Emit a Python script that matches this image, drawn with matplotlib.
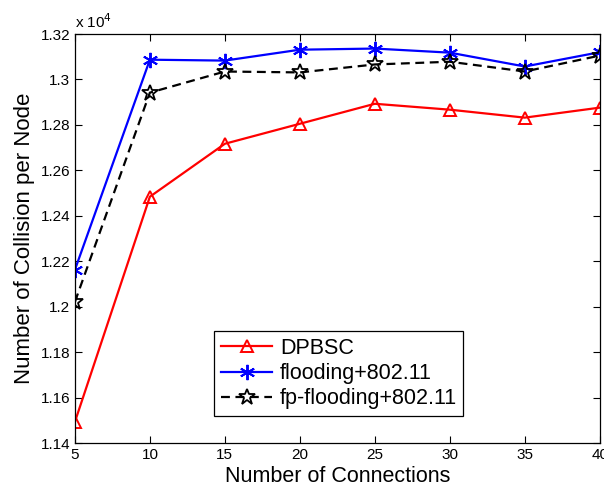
import matplotlib.pyplot as plt
from matplotlib.ticker import FixedLocator, FuncFormatter

plt.rcParams['font.family'] = ['Liberation Sans', 'DejaVu Sans']

connections = [5, 10, 15, 20, 25, 30, 35, 40]
dpbsc = [11493, 12484, 12717, 12805, 12893, 12867, 12832, 12876]
flooding = [12162, 13087, 13083, 13131, 13136, 13118, 13057, 13120]
fp_flooding = [12021, 12942, 13035, 13031, 13066, 13078, 13035, 13105]

scale = 1e4

fig = plt.figure(figsize=(6.04, 4.93), dpi=100)
ax = fig.add_axes([0.124, 0.1014, 0.869, 0.8296])

ax.plot(connections, [v / scale for v in dpbsc], color='red', lw=1.6,
        marker='^', ms=9, mfc='none', mew=1.4, label='DPBSC')
ax.plot(connections, [v / scale for v in flooding], color='blue', lw=1.6,
        marker=(6, 2, 0), ms=11, mew=1.4, label='flooding+802.11')
ax.plot(connections, [v / scale for v in fp_flooding], color='black', lw=1.6,
        ls='--', dashes=(4, 2.5), marker='*', ms=12, mfc='none', mew=1.3,
        label='fp-flooding+802.11')

ax.set_xlim(5, 40)
ax.set_ylim(1.14, 1.32)
ax.xaxis.set_major_locator(FixedLocator(connections))
yt = [1.14 + 0.02 * i for i in range(10)]
ax.yaxis.set_major_locator(FixedLocator(yt))
ax.yaxis.set_major_formatter(FuncFormatter(lambda v, p: ('%.2f' % v).rstrip('0').rstrip('.')))
ax.tick_params(direction='in', top=True, right=True, labelsize=11, length=5, width=0.8)
for s in ax.spines.values():
    s.set_linewidth(0.9)

ax.set_xlabel('Number of Connections', fontsize=15.5, labelpad=3)
ax.set_ylabel('Number of Collision per Node', fontsize=16, labelpad=4)
ax.text(0.0, 1.008, r'x 10$^4$', transform=ax.transAxes, fontsize=11, ha='left', va='bottom')

leg = ax.legend(loc='lower left', bbox_to_anchor=(0.245, 0.04), fontsize=15.5,
                fancybox=False, edgecolor='black', framealpha=1,
                handlelength=2.4, borderpad=0.3, labelspacing=0.2, handletextpad=0.35)
leg.get_frame().set_linewidth(0.9)

fig.savefig('out.png', dpi=100)
